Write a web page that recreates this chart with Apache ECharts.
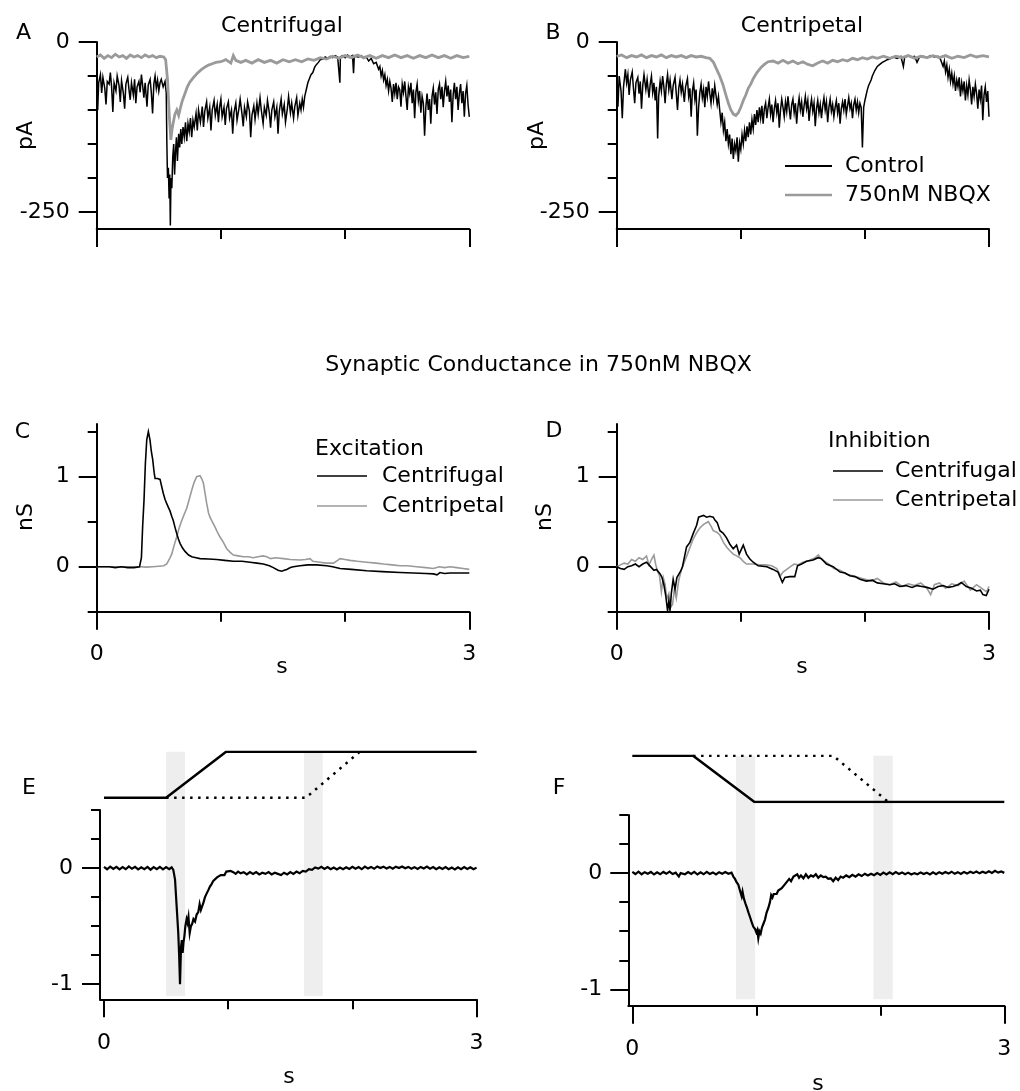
<!DOCTYPE html>
<html>
<head>
<meta charset="utf-8">
<script src="https://cdn.jsdelivr.net/npm/echarts@6/dist/echarts.min.js"></script>
<style>
html,body{margin:0;padding:0;background:#fff;}
#chart{width:1020px;height:1091px;}
</style>
</head>
<body>
<div id="chart"></div>
<script>
// ---------------- DATA ----------------
// Panel A (Centrifugal), current in pA vs time in s
const aControl = [[0,-55],[0.008,-100],[0.016,-60],[0.03,-48],[0.04,-75],[0.05,-52],[0.065,-68],[0.075,-92],[0.085,-58],[0.1,-62],[0.11,-45],[0.12,-66],[0.13,-103],[0.14,-60],[0.155,-72],[0.165,-50],[0.18,-64],[0.19,-88],[0.2,-57],[0.215,-76],[0.225,-98],[0.235,-62],[0.25,-52],[0.26,-70],[0.27,-85],[0.28,-60],[0.295,-78],[0.305,-55],[0.315,-90],[0.325,-66],[0.34,-58],[0.35,-74],[0.36,-48],[0.37,-64],[0.38,-82],[0.39,-60],[0.405,-95],[0.415,-63],[0.43,-55],[0.44,-75],[0.45,-105],[0.46,-62],[0.47,-50],[0.48,-68],[0.49,-56],[0.5,-72],[0.51,-60],[0.52,-55],[0.535,-66],[0.55,-58],
[0.56,-75],[0.565,-150],[0.57,-200],[0.577,-185],[0.583,-230],[0.588,-195],[0.593,-270],[0.598,-200],[0.605,-215],[0.612,-170],[0.62,-150],[0.627,-195],[0.635,-160],[0.642,-140],[0.65,-175],[0.66,-135],[0.668,-155],[0.677,-128],[0.685,-150],[0.695,-125],[0.705,-140],[0.715,-118],[0.725,-146],[0.735,-120],[0.745,-132],[0.755,-112],[0.765,-140],[0.775,-115],[0.785,-125],[0.8,-105],[0.81,-130],[0.82,-100],[0.835,-118],[0.85,-95],[0.86,-125],[0.87,-102],[0.885,-88],[0.895,-112],[0.91,-96],[0.92,-130],[0.93,-100],[0.945,-86],[0.955,-108],[0.97,-92],[0.98,-118],[0.99,-95],
[1.0,-84],[1.01,-110],[1.025,-96],[1.035,-122],[1.045,-98],[1.06,-88],[1.07,-112],[1.085,-100],[1.095,-135],[1.105,-104],[1.12,-90],[1.13,-115],[1.145,-98],[1.155,-84],[1.17,-106],[1.18,-124],[1.19,-96],[1.205,-110],[1.215,-88],[1.23,-102],[1.24,-140],[1.25,-108],[1.265,-94],[1.275,-114],[1.29,-90],[1.3,-106],[1.315,-82],[1.325,-100],[1.34,-120],[1.35,-96],[1.365,-108],[1.375,-86],[1.39,-104],[1.4,-126],[1.41,-100],[1.425,-88],[1.435,-110],[1.45,-96],[1.46,-135],[1.47,-102],[1.485,-84],[1.495,-106],[1.51,-92],[1.52,-118],[1.535,-98],[1.545,-80],[1.56,-104],[1.57,-90],[1.585,-112],[1.595,-95],[1.61,-82],[1.62,-108],[1.635,-90],[1.645,-100],[1.655,-84],[1.665,-96],
[1.675,-80],[1.69,-68],[1.7,-60],[1.715,-58],[1.725,-48],[1.74,-45],[1.755,-37],[1.77,-33],[1.785,-30],[1.8,-26],[1.82,-25],[1.84,-22],[1.86,-24],[1.88,-21],[1.9,-23],[1.92,-20],[1.94,-22],[1.955,-21],[1.958,-60],[1.962,-22],[1.98,-20],[2.0,-23],[2.02,-19],[2.04,-22],[2.06,-20],[2.068,-46],[2.074,-21],[2.09,-19],[2.11,-22],[2.13,-20],[2.15,-24],[2.17,-22],[2.19,-28],[2.21,-24],[2.23,-32],[2.25,-30],[2.27,-40],[2.28,-36],[2.29,-50],[2.3,-42],[2.31,-56],[2.32,-48],[2.33,-64],[2.34,-55],[2.35,-72],[2.36,-58],[2.37,-68],[2.38,-88],[2.39,-62],[2.4,-76],[2.41,-60],[2.42,-84],[2.43,-66],[2.44,-70],[2.45,-95],[2.46,-62],[2.47,-74],[2.48,-58],[2.49,-80],[2.5,-100],[2.51,-66],[2.52,-76],[2.53,-60],[2.54,-90],[2.55,-70],[2.56,-112],[2.57,-74],[2.58,-62],[2.59,-86],[2.6,-72],[2.61,-104],[2.62,-80],[2.63,-90],[2.64,-138],[2.65,-96],[2.66,-76],[2.67,-100],[2.68,-84],[2.69,-120],[2.7,-80],[2.71,-68],[2.72,-92],[2.73,-74],[2.74,-106],[2.75,-70],[2.76,-62],[2.77,-84],[2.78,-66],[2.79,-96],[2.8,-72],[2.81,-58],[2.82,-80],[2.83,-64],[2.84,-88],[2.85,-70],[2.86,-118],[2.87,-78],[2.88,-60],[2.89,-84],[2.9,-66],[2.91,-100],[2.92,-76],[2.93,-62],[2.94,-90],[2.95,-72],[2.96,-110],[2.97,-76],[2.98,-64],[2.99,-92],[3.0,-110]];
const aNbqx = [[0,-22],[0.03,-19],[0.06,-24],[0.09,-20],[0.12,-23],[0.15,-18],[0.18,-22],[0.21,-20],[0.24,-24],[0.27,-19],[0.3,-22],[0.33,-20],[0.36,-23],[0.39,-19],[0.42,-22],[0.45,-20],[0.48,-23],[0.51,-21],[0.54,-22],[0.555,-26],[0.57,-55],[0.585,-110],[0.597,-144],[0.607,-128],[0.617,-118],[0.63,-106],[0.645,-100],[0.66,-108],[0.675,-96],[0.69,-86],[0.71,-76],[0.73,-66],[0.75,-59],[0.78,-52],[0.81,-46],[0.84,-41],[0.87,-37],[0.9,-34],[0.93,-32],[0.96,-30],[1.0,-29],[1.04,-26],[1.08,-31],[1.1,-20],[1.12,-27],[1.16,-30],[1.2,-27],[1.25,-31],[1.3,-26],[1.35,-30],[1.4,-27],[1.45,-31],[1.5,-26],[1.55,-29],[1.6,-26],[1.65,-29],[1.7,-25],[1.75,-27],[1.8,-23],[1.85,-25],[1.9,-21],[1.95,-24],[2.0,-20],[2.05,-23],[2.1,-19],[2.15,-23],[2.2,-20],[2.25,-24],[2.3,-20],[2.35,-23],[2.4,-19],[2.45,-23],[2.5,-20],[2.55,-24],[2.6,-20],[2.65,-23],[2.7,-19],[2.75,-23],[2.8,-20],[2.85,-24],[2.9,-20],[2.95,-23],[3.0,-21]];

// Panel B (Centripetal)
const bControl = [[0,-55],[0.01,-95],[0.02,-50],[0.035,-72],[0.045,-112],[0.055,-66],[0.07,-40],[0.08,-60],[0.09,-48],[0.1,-78],[0.11,-56],[0.125,-44],[0.135,-68],[0.145,-90],[0.155,-60],[0.17,-52],[0.18,-76],[0.19,-58],[0.2,-98],[0.21,-64],[0.22,-48],[0.235,-70],[0.245,-55],[0.26,-82],[0.27,-62],[0.28,-50],[0.29,-74],[0.3,-60],[0.31,-86],[0.32,-66],[0.33,-142],[0.338,-80],[0.35,-58],[0.36,-72],[0.37,-50],[0.38,-66],[0.39,-90],[0.4,-62],[0.41,-48],[0.42,-70],[0.43,-56],[0.445,-84],[0.455,-64],[0.47,-52],[0.48,-76],[0.49,-100],[0.5,-68],[0.51,-56],[0.52,-74],[0.53,-62],[0.545,-88],[0.555,-66],[0.57,-54],[0.58,-80],[0.59,-68],[0.6,-110],[0.61,-72],[0.62,-60],[0.63,-84],[0.64,-70],[0.65,-138],[0.66,-96],[0.67,-74],[0.68,-62],[0.69,-82],[0.7,-70],[0.71,-96],[0.72,-66],[0.73,-80],[0.74,-58],[0.75,-76],[0.76,-90],[0.77,-68],[0.78,-84],[0.79,-64],[0.8,-78],[0.81,-92],[0.82,-80],[0.83,-100],
[0.84,-118],[0.85,-104],[0.86,-130],[0.87,-118],[0.88,-146],[0.89,-128],[0.9,-150],[0.91,-136],[0.92,-165],[0.93,-142],[0.94,-172],[0.95,-150],[0.96,-160],[0.97,-140],[0.98,-176],[0.99,-148],[1.0,-158],[1.01,-136],[1.02,-150],[1.03,-130],[1.04,-146],[1.05,-124],[1.06,-140],[1.07,-118],[1.08,-136],[1.09,-114],[1.1,-128],[1.11,-106],[1.12,-122],[1.13,-100],[1.14,-118],[1.15,-96],[1.16,-112],[1.17,-94],[1.18,-120],[1.19,-98],[1.2,-90],[1.21,-112],[1.22,-96],[1.23,-84],
[1.24,-106],[1.25,-92],[1.26,-118],[1.27,-98],[1.28,-86],[1.29,-104],[1.3,-90],[1.31,-126],[1.32,-100],[1.33,-84],[1.34,-96],[1.35,-110],[1.36,-88],[1.37,-102],[1.38,-80],[1.39,-98],[1.4,-114],[1.41,-92],[1.42,-84],[1.43,-104],[1.44,-90],[1.45,-120],[1.46,-96],[1.47,-82],[1.48,-100],[1.49,-88],[1.5,-110],[1.51,-94],[1.52,-80],[1.53,-98],[1.54,-86],[1.55,-116],[1.56,-96],[1.57,-84],[1.58,-102],[1.59,-90],[1.6,-124],[1.61,-98],[1.62,-86],[1.63,-104],[1.64,-92],[1.65,-112],[1.66,-94],[1.67,-82],[1.68,-100],[1.69,-88],[1.7,-118],[1.71,-96],[1.72,-84],[1.73,-102],[1.74,-92],[1.75,-110],[1.76,-96],[1.77,-86],[1.78,-104],[1.79,-90],[1.8,-120],[1.81,-98],[1.82,-88],[1.83,-100],[1.84,-84],[1.85,-106],[1.86,-94],[1.87,-82],[1.88,-98],[1.89,-90],[1.9,-112],[1.91,-92],[1.92,-84],[1.93,-100],[1.94,-88],[1.95,-104],[1.96,-90],[1.97,-96],[1.98,-155],[1.99,-96],[2.0,-86],
[2.01,-78],[2.02,-70],[2.03,-64],[2.04,-60],[2.05,-56],[2.06,-50],[2.07,-48],[2.08,-42],[2.09,-40],[2.1,-36],[2.12,-33],[2.14,-30],[2.16,-28],[2.18,-26],[2.2,-25],[2.23,-22],[2.26,-24],[2.29,-21],[2.31,-36],[2.32,-23],[2.35,-20],[2.38,-22],[2.4,-21],[2.42,-30],[2.44,-22],[2.47,-21],[2.5,-23],[2.53,-20],[2.56,-22],[2.59,-21],[2.61,-26],[2.62,-24],[2.63,-36],[2.64,-28],[2.65,-44],[2.66,-34],[2.67,-52],[2.68,-40],[2.69,-58],[2.7,-46],[2.71,-62],[2.72,-50],[2.73,-72],[2.74,-56],[2.75,-66],[2.76,-52],[2.77,-80],[2.78,-60],[2.79,-72],[2.8,-58],[2.81,-86],[2.82,-64],[2.83,-78],[2.84,-56],[2.85,-70],[2.86,-92],[2.87,-66],[2.88,-80],[2.89,-62],[2.9,-76],[2.91,-98],[2.92,-70],[2.93,-84],[2.94,-64],[2.95,-115],[2.96,-78],[2.97,-66],[2.98,-88],[2.99,-72],[3.0,-110]];
const bNbqx = [[0,-21],[0.04,-19],[0.08,-23],[0.12,-20],[0.16,-22],[0.2,-19],[0.24,-23],[0.28,-20],[0.32,-22],[0.36,-19],[0.4,-23],[0.44,-20],[0.48,-22],[0.52,-20],[0.56,-23],[0.6,-20],[0.64,-22],[0.68,-21],[0.72,-23],[0.75,-24],[0.78,-30],[0.8,-38],[0.83,-50],[0.855,-62],[0.88,-78],[0.9,-90],[0.92,-100],[0.94,-106],[0.96,-108],[0.98,-104],[1.0,-96],[1.02,-86],[1.04,-78],[1.06,-68],[1.08,-62],[1.1,-54],[1.13,-45],[1.16,-38],[1.19,-33],[1.22,-29],[1.26,-28],[1.3,-31],[1.34,-27],[1.38,-31],[1.42,-28],[1.46,-32],[1.5,-29],[1.54,-33],[1.58,-35],[1.62,-31],[1.66,-28],[1.7,-31],[1.74,-27],[1.78,-29],[1.82,-26],[1.86,-28],[1.9,-24],[1.94,-26],[1.98,-23],[2.02,-25],[2.06,-22],[2.1,-24],[2.15,-21],[2.2,-24],[2.25,-21],[2.3,-23],[2.35,-20],[2.4,-24],[2.45,-21],[2.5,-23],[2.55,-20],[2.6,-23],[2.65,-20],[2.7,-24],[2.75,-21],[2.8,-23],[2.85,-19],[2.9,-22],[2.95,-20],[3.0,-22]];

// Panel C (Excitation, nS)
const cCentrifugal = [[0,0],[0.1,0.0],[0.15,-0.01],[0.2,0.0],[0.25,-0.01],[0.3,-0.01],[0.345,0.0],[0.36,0.1],[0.37,0.45],[0.381,0.74],[0.392,1.15],[0.403,1.41],[0.416,1.5],[0.429,1.41],[0.44,1.28],[0.451,1.19],[0.462,1.05],[0.47,0.98],[0.49,0.98],[0.51,0.97],[0.525,0.88],[0.537,0.81],[0.55,0.75],[0.564,0.7],[0.577,0.66],[0.59,0.62],[0.604,0.56],[0.617,0.51],[0.63,0.44],[0.644,0.37],[0.657,0.31],[0.671,0.26],[0.69,0.21],[0.711,0.17],[0.74,0.13],[0.765,0.11],[0.8,0.1],[0.832,0.09],[0.9,0.085],[0.966,0.08],[1.03,0.07],[1.1,0.06],[1.17,0.06],[1.235,0.05],[1.29,0.04],[1.342,0.03],[1.39,0.01],[1.422,-0.01],[1.46,-0.04],[1.49,-0.05],[1.51,-0.04],[1.53,-0.03],[1.56,-0.01],[1.583,0.0],[1.637,0.01],[1.7,0.02],[1.771,0.02],[1.852,0.01],[1.9,0.0],[1.959,-0.02],[2.05,-0.03],[2.174,-0.045],[2.3,-0.055],[2.442,-0.065],[2.55,-0.07],[2.65,-0.075],[2.711,-0.08],[2.74,-0.09],[2.764,-0.065],[2.8,-0.075],[2.845,-0.07],[2.9,-0.07],[3.0,-0.07]];
const cCentripetal = [[0,0],[0.3,0.0],[0.35,0.0],[0.4,-0.005],[0.45,0.0],[0.5,0.005],[0.54,0.01],[0.564,0.03],[0.584,0.08],[0.604,0.14],[0.624,0.24],[0.644,0.33],[0.664,0.43],[0.684,0.51],[0.704,0.58],[0.725,0.65],[0.745,0.75],[0.765,0.85],[0.785,0.94],[0.805,1.0],[0.82,1.02],[0.832,1.01],[0.845,0.98],[0.859,0.93],[0.872,0.82],[0.886,0.7],[0.9,0.6],[0.912,0.55],[0.93,0.5],[0.953,0.44],[0.97,0.39],[0.993,0.33],[1.02,0.27],[1.047,0.2],[1.075,0.16],[1.1,0.13],[1.14,0.12],[1.181,0.11],[1.22,0.11],[1.261,0.1],[1.3,0.11],[1.34,0.12],[1.369,0.11],[1.4,0.09],[1.44,0.1],[1.503,0.09],[1.56,0.08],[1.637,0.075],[1.68,0.08],[1.718,0.09],[1.74,0.06],[1.798,0.05],[1.85,0.04],[1.906,0.04],[1.94,0.07],[1.959,0.09],[2.0,0.08],[2.04,0.07],[2.1,0.06],[2.174,0.05],[2.25,0.04],[2.308,0.03],[2.38,0.02],[2.442,0.01],[2.5,0.01],[2.576,0.0],[2.65,-0.01],[2.711,-0.02],[2.76,0.0],[2.8,-0.01],[2.845,0.0],[2.9,-0.01],[2.95,-0.02],[3.0,-0.03]];

// Panel D (Inhibition, nS)
const dCentrifugal = [[0,0],[0.03,-0.02],[0.06,-0.03],[0.09,0.0],[0.12,0.01],[0.15,0.03],[0.18,0.0],[0.21,0.03],[0.24,0.05],[0.26,0.02],[0.28,-0.01],[0.3,-0.04],[0.32,-0.03],[0.335,-0.01],[0.35,-0.08],[0.365,-0.12],[0.38,-0.2],[0.395,-0.32],[0.41,-0.49],[0.42,-0.38],[0.43,-0.49],[0.44,-0.3],[0.455,-0.14],[0.47,-0.25],[0.485,-0.12],[0.5,-0.1],[0.515,-0.05],[0.53,0.0],[0.545,0.1],[0.563,0.22],[0.59,0.27],[0.617,0.37],[0.644,0.46],[0.66,0.55],[0.68,0.56],[0.7,0.57],[0.724,0.55],[0.75,0.56],[0.778,0.55],[0.79,0.52],[0.81,0.49],[0.832,0.4],[0.859,0.37],[0.885,0.32],[0.912,0.25],[0.939,0.2],[0.966,0.24],[0.987,0.14],[1.02,0.24],[1.046,0.14],[1.073,0.086],[1.1,0.05],[1.14,0.01],[1.21,0.0],[1.26,-0.03],[1.3,-0.06],[1.335,-0.175],[1.355,-0.12],[1.395,-0.11],[1.435,-0.11],[1.457,0.01],[1.49,0.03],[1.53,0.06],[1.583,0.075],[1.623,0.1],[1.65,0.09],[1.69,0.03],[1.744,0.0],[1.8,-0.06],[1.84,-0.07],[1.878,-0.1],[1.92,-0.11],[1.96,-0.14],[2.012,-0.16],[2.06,-0.15],[2.1,-0.18],[2.147,-0.19],[2.2,-0.2],[2.24,-0.19],[2.281,-0.22],[2.33,-0.21],[2.38,-0.23],[2.42,-0.21],[2.46,-0.22],[2.5,-0.23],[2.549,-0.25],[2.59,-0.22],[2.63,-0.21],[2.67,-0.23],[2.71,-0.22],[2.75,-0.2],[2.777,-0.175],[2.817,-0.22],[2.86,-0.24],[2.9,-0.27],[2.93,-0.26],[2.951,-0.31],[2.978,-0.32],[3.0,-0.25]];
const dCentripetal = [[0,0.0],[0.03,0.02],[0.06,0.04],[0.09,0.03],[0.12,0.08],[0.15,0.06],[0.18,0.1],[0.21,0.08],[0.24,0.12],[0.26,0.02],[0.28,0.08],[0.3,0.13],[0.315,0.02],[0.33,-0.05],[0.345,-0.1],[0.36,-0.28],[0.375,-0.12],[0.39,-0.2],[0.405,-0.36],[0.42,-0.3],[0.435,-0.45],[0.45,-0.42],[0.465,-0.25],[0.48,-0.35],[0.5,-0.15],[0.52,-0.04],[0.545,0.05],[0.57,0.14],[0.6,0.25],[0.617,0.31],[0.645,0.38],[0.67,0.43],[0.7,0.47],[0.738,0.5],[0.76,0.45],[0.778,0.4],[0.81,0.38],[0.832,0.35],[0.86,0.27],[0.885,0.22],[0.91,0.18],[0.939,0.14],[0.966,0.12],[0.993,0.1],[1.02,0.06],[1.046,0.03],[1.07,0.03],[1.1,0.03],[1.15,0.02],[1.2,0.02],[1.25,0.01],[1.29,-0.02],[1.32,-0.1],[1.34,-0.06],[1.37,-0.03],[1.4,0.0],[1.43,0.03],[1.46,0.02],[1.5,0.05],[1.55,0.07],[1.6,0.1],[1.625,0.13],[1.65,0.08],[1.7,0.04],[1.75,-0.02],[1.8,-0.04],[1.85,-0.08],[1.9,-0.1],[1.95,-0.12],[2.0,-0.14],[2.05,-0.16],[2.1,-0.13],[2.15,-0.18],[2.2,-0.2],[2.25,-0.17],[2.3,-0.22],[2.35,-0.19],[2.4,-0.21],[2.45,-0.18],[2.5,-0.24],[2.53,-0.31],[2.56,-0.2],[2.6,-0.18],[2.65,-0.24],[2.7,-0.19],[2.75,-0.21],[2.8,-0.16],[2.85,-0.26],[2.9,-0.2],[2.95,-0.25],[2.98,-0.28],[3.0,-0.22]];

// Panel E / F traces
const eTrace = [[0,0.01],[0.025,-0.01],[0.05,0.012],[0.075,-0.008],[0.1,0.01],[0.125,-0.012],[0.15,0.008],[0.175,-0.01],[0.2,0.014],[0.225,-0.006],[0.25,0.01],[0.275,-0.012],[0.3,0.006],[0.325,-0.01],[0.35,0.01],[0.375,-0.014],[0.4,0.008],[0.425,-0.01],[0.45,0.01],[0.475,-0.012],[0.5,0.008],[0.525,-0.01],[0.545,0.006],[0.558,-0.015],[0.572,-0.1],[0.585,-0.33],[0.598,-0.56],[0.605,-0.75],[0.612,-1.0],[0.62,-0.68],[0.627,-0.62],[0.633,-0.73],[0.64,-0.64],[0.647,-0.59],[0.655,-0.5],[0.665,-0.44],[0.672,-0.47],[0.68,-0.42],[0.69,-0.56],[0.7,-0.5],[0.71,-0.48],[0.72,-0.44],[0.733,-0.46],[0.746,-0.4],[0.759,-0.38],[0.77,-0.31],[0.78,-0.36],[0.79,-0.33],[0.8,-0.3],[0.813,-0.25],[0.826,-0.22],[0.84,-0.19],[0.853,-0.16],[0.865,-0.14],[0.88,-0.11],[0.895,-0.1],[0.91,-0.08],[0.925,-0.075],[0.94,-0.06],[0.955,-0.055],[0.97,-0.06],[0.985,-0.03],[1.0,-0.045],[1.02,-0.025],[1.041,-0.035],[1.06,-0.05],[1.08,-0.03],[1.1,-0.045],[1.125,-0.035],[1.15,-0.055],[1.175,-0.035],[1.2,-0.05],[1.225,-0.035],[1.25,-0.055],[1.275,-0.04],[1.3,-0.05],[1.325,-0.035],[1.35,-0.055],[1.375,-0.04],[1.4,-0.05],[1.425,-0.06],[1.45,-0.04],[1.475,-0.055],[1.5,-0.035],[1.525,-0.05],[1.55,-0.03],[1.575,-0.045],[1.6,-0.025],[1.625,-0.03],[1.65,-0.01],[1.675,-0.015],[1.7,0.005],[1.725,-0.005],[1.75,0.01],[1.775,-0.008],[1.8,0.008],[1.825,-0.01],[1.85,0.005],[1.875,-0.012],[1.9,0.004],[1.925,-0.01],[1.95,0.006],[1.975,-0.008],[2.0,0.01],[2.025,-0.006],[2.05,0.008],[2.075,-0.01],[2.1,0.012],[2.125,-0.004],[2.15,0.01],[2.175,-0.006],[2.2,0.014],[2.225,0.0],[2.25,0.012],[2.275,-0.004],[2.3,0.01],[2.325,-0.006],[2.35,0.012],[2.375,0.0],[2.4,0.014],[2.425,-0.002],[2.45,0.01],[2.475,-0.006],[2.5,0.008],[2.525,-0.008],[2.55,0.01],[2.575,-0.004],[2.6,0.012],[2.625,-0.006],[2.65,0.008],[2.675,-0.01],[2.7,0.006],[2.725,-0.008],[2.75,0.008],[2.775,-0.01],[2.8,0.004],[2.825,-0.012],[2.85,0.006],[2.875,-0.01],[2.9,0.008],[2.925,-0.008],[2.95,0.006],[2.975,-0.01],[3.0,0.004]];
const fTrace = [[0,0.01],[0.025,-0.008],[0.05,0.012],[0.075,-0.01],[0.1,0.008],[0.125,-0.006],[0.15,0.01],[0.175,-0.012],[0.2,0.006],[0.225,-0.01],[0.25,0.01],[0.275,-0.006],[0.3,0.012],[0.325,-0.008],[0.35,0.004],[0.375,-0.03],[0.39,0.0],[0.4,0.01],[0.425,-0.01],[0.45,0.008],[0.475,-0.008],[0.5,0.01],[0.525,-0.012],[0.55,0.006],[0.575,-0.01],[0.6,0.01],[0.625,-0.008],[0.65,0.006],[0.675,-0.012],[0.7,0.008],[0.725,-0.006],[0.75,0.01],[0.775,-0.006],[0.8,0.004],[0.815,-0.03],[0.828,-0.05],[0.842,-0.08],[0.855,-0.1],[0.868,-0.15],[0.882,-0.2],[0.889,-0.16],[0.9,-0.22],[0.912,-0.26],[0.925,-0.3],[0.937,-0.34],[0.95,-0.38],[0.962,-0.42],[0.975,-0.46],[0.989,-0.48],[1.0,-0.51],[1.008,-0.49],[1.016,-0.56],[1.025,-0.5],[1.035,-0.52],[1.045,-0.47],[1.056,-0.44],[1.07,-0.4],[1.083,-0.34],[1.097,-0.3],[1.11,-0.25],[1.12,-0.19],[1.13,-0.21],[1.14,-0.18],[1.151,-0.17],[1.164,-0.18],[1.177,-0.15],[1.19,-0.15],[1.205,-0.13],[1.218,-0.12],[1.235,-0.09],[1.25,-0.08],[1.265,-0.05],[1.28,-0.07],[1.3,-0.03],[1.315,-0.04],[1.33,-0.01],[1.345,-0.04],[1.36,-0.02],[1.38,-0.045],[1.4,-0.01],[1.42,-0.04],[1.44,-0.02],[1.46,-0.03],[1.48,-0.01],[1.5,-0.04],[1.52,-0.02],[1.54,-0.035],[1.56,-0.03],[1.58,-0.05],[1.6,-0.045],[1.62,-0.07],[1.64,-0.04],[1.66,-0.06],[1.68,-0.03],[1.7,-0.04],[1.725,-0.02],[1.75,-0.035],[1.775,-0.015],[1.8,-0.03],[1.825,-0.01],[1.85,-0.025],[1.875,-0.005],[1.9,-0.02],[1.925,-0.005],[1.95,-0.018],[1.975,0.0],[2.0,-0.015],[2.025,0.004],[2.05,-0.012],[2.075,0.006],[2.1,-0.01],[2.125,0.008],[2.15,-0.008],[2.175,0.006],[2.2,-0.01],[2.225,0.004],[2.25,-0.012],[2.275,0.0],[2.3,-0.01],[2.325,0.006],[2.35,-0.008],[2.375,0.004],[2.4,-0.012],[2.425,0.006],[2.45,-0.01],[2.475,0.008],[2.5,-0.006],[2.525,0.01],[2.55,-0.004],[2.575,0.012],[2.6,-0.006],[2.625,0.008],[2.65,-0.008],[2.675,0.01],[2.7,-0.004],[2.725,0.012],[2.75,0.0],[2.775,0.014],[2.8,-0.002],[2.825,0.012],[2.85,0.0],[2.875,0.016],[2.9,0.002],[2.925,0.02],[2.95,0.004],[2.975,0.014],[3.0,0.002]];

// Stimulus schematics (0 = low, 1 = high) and shaded windows (s)
const eStimSolid = [[0,0],[0.5,0],[0.983,1],[3,1]];
const eStimDotted = [[0.5,0],[1.626,0],[2.06,1]];
const fStimSolid = [[0,1],[0.49,1],[0.985,0],[3,0]];
const fStimDotted = [[0.49,1],[1.62,1],[2.065,0]];
const eBands = [[0.5,0.652],[1.61,1.761]];
const fBands = [[0.836,0.99],[1.944,2.1]];

// Tick values
const xMajorTicks = [0,3], xMinorTicks = [1,2];
const pAMajor = [-250,0], pAMinor = [-200,-150,-100,-50];
const nSMajor = [0,1], nSMinor = [-0.5,0.5,1.5];
const eMajor = [-1,0], eMinor = [-0.75,-0.5,-0.25,0.25,0.5];

// ---------------- BUILD ----------------
const FONT = '"DejaVu Sans", Verdana, sans-serif';
const BLACK = '#000', GRAY = '#9a9a9a';
const grids = [], xAxes = [], yAxes = [], series = [];
const lblStyle = {color:'#000', fontFamily:FONT, fontSize:22};
const tickLS = {color:'#000', width:2};

function addPanel(rect, xr, yr, yMaj, yMin, showXLabels, xMargin, yMargin) {
  const gi = grids.length;
  grids.push({left:rect[0], top:rect[1], width:rect[2], height:rect[3], containLabel:false, outerBoundsMode:'none', show:false});
  const xb = {gridIndex:gi, type:'value', min:xr[0], max:xr[1], position:'bottom', splitLine:{show:false}};
  const yb = {gridIndex:gi, type:'value', min:yr[0], max:yr[1], position:'left', splitLine:{show:false}};
  const xi = xAxes.length, yi = yAxes.length;
  xAxes.push(Object.assign({}, xb, {
    axisLine:{show:true, onZero:false, lineStyle:{color:'#000', width:2}},
    axisTick:{show:true, length:18, customValues:xMajorTicks, lineStyle:tickLS},
    axisLabel:Object.assign({show:showXLabels, customValues:xMajorTicks, margin:xMargin}, lblStyle)}));
  xAxes.push(Object.assign({}, xb, {
    axisLine:{show:false, onZero:false},
    axisTick:{show:true, length:10, customValues:xMinorTicks, lineStyle:tickLS},
    axisLabel:{show:false}}));
  yAxes.push(Object.assign({}, yb, {
    axisLine:{show:true, onZero:false, lineStyle:{color:'#000', width:2}},
    axisTick:{show:true, length:18, customValues:yMaj, lineStyle:tickLS},
    axisLabel:Object.assign({show:true, customValues:yMaj, margin:yMargin}, lblStyle)}));
  yAxes.push(Object.assign({}, yb, {
    axisLine:{show:false, onZero:false},
    axisTick:{show:true, length:9, customValues:yMin, lineStyle:tickLS},
    axisLabel:{show:false}}));
  return {xi, yi};
}
function addHidden(rect, xr, yr) {
  const gi = grids.length;
  grids.push({left:rect[0], top:rect[1], width:rect[2], height:rect[3], containLabel:false, outerBoundsMode:'none', show:false});
  const hid = {axisLine:{show:false}, axisTick:{show:false}, axisLabel:{show:false}, splitLine:{show:false}};
  const xi = xAxes.length, yi = yAxes.length;
  xAxes.push(Object.assign({gridIndex:gi, type:'value', min:xr[0], max:xr[1]}, hid));
  yAxes.push(Object.assign({gridIndex:gi, type:'value', min:yr[0], max:yr[1]}, hid));
  return {xi, yi};
}
function trace(name, data, ax, color, width, z, dash) {
  series.push({name, type:'line', data, xAxisIndex:ax.xi, yAxisIndex:ax.yi, showSymbol:false, symbol:'none',
    silent:true, z, lineStyle:{color, width, type: dash || 'solid', cap:'butt', join:'miter'}, animation:false});
}
function bands(list, ax) {
  series.push({type:'line', data:[], xAxisIndex:ax.xi, yAxisIndex:ax.yi, z:0, silent:true,
    markArea:{silent:true, itemStyle:{color:'#eeeeee'}, data:list.map(b => [{xAxis:b[0], yAxis:0},{xAxis:b[1], yAxis:1}])}});
}

const pA = addPanel([96.7,42,372.6,187], [0,3], [-275,0], pAMajor, pAMinor, false, 30, 27);
const pB = addPanel([616.7,42,372.3,187], [0,3], [-275,0], pAMajor, pAMinor, false, 30, 27);
const pC = addPanel([96.7,424,372.6,187.7], [0,3], [-0.5,1.5856], nSMajor, nSMinor, true, 32, 27);
const pD = addPanel([616.7,424,372.3,187.7], [0,3], [-0.5,1.5856], nSMajor, nSMinor, true, 32, 27);
const pE = addPanel([100,810,376.6,189.3], [-0.0322,3], [-1.13,0.5], eMajor, eMinor, true, 33, 27);
const pF = addPanel([628.3,815,376,190.7], [-0.0323,3], [-1.141,0.5], eMajor, eMinor, true, 33, 26);
const eBand = addHidden([100,751.7,376.6,244.3], [-0.0322,3], [0,1]);
const fBand = addHidden([628.3,755.7,376,243.6], [-0.0323,3], [0,1]);
const eStim = addHidden([100,751.7,376.6,46], [-0.0322,3], [0,1]);
const fStim = addHidden([628.3,755.7,376,46.3], [-0.0323,3], [0,1]);

bands(eBands, eBand);
bands(fBands, fBand);
trace('Control', aControl, pA, BLACK, 1.5, 3);
trace('750nM NBQX', aNbqx, pA, GRAY, 2.8, 4);
trace('Control', bControl, pB, BLACK, 1.5, 3);
trace('750nM NBQX', bNbqx, pB, GRAY, 2.8, 4);
trace('Centripetal', cCentripetal, pC, GRAY, 1.6, 3);
trace('Centrifugal', cCentrifugal, pC, BLACK, 1.6, 4);
trace('Centripetal', dCentripetal, pD, GRAY, 1.6, 3);
trace('Centrifugal', dCentrifugal, pD, BLACK, 1.6, 4);
trace('E', eTrace, pE, BLACK, 2.2, 4);
trace('F', fTrace, pF, BLACK, 2.2, 4);
trace('E stim', eStimSolid, eStim, BLACK, 2.5, 5);
trace('E stim dotted', eStimDotted, eStim, BLACK, 2.5, 5, [2.5,5.5]);
trace('F stim', fStimSolid, fStim, BLACK, 2.5, 5);
trace('F stim dotted', fStimDotted, fStim, BLACK, 2.5, 5, [2.5,5.5]);

function txt(text, x, y, align, rot) {
  return {type:'text', x, y, rotation: rot || 0, z:100, silent:true,
    style:{text, x:0, y:0, fill:'#000', font:'22px ' + FONT, textAlign:align || 'center', textVerticalAlign:'middle', align:align || 'center', verticalAlign:'middle'}};
}
function seg(x1, x2, y, color, w) {
  return {type:'line', z:100, silent:true, shape:{x1, y1:y, x2, y2:y}, style:{stroke:color, lineWidth:w}};
}
const graphics = [
  txt('A', 23.5, 33), txt('Centrifugal', 282, 26),
  txt('B', 553, 33), txt('Centripetal', 802, 26),
  txt('pA', 26, 135.5, 'center', Math.PI/2), txt('pA', 537, 135.5, 'center', Math.PI/2),
  seg(785, 832, 166, BLACK, 2), txt('Control', 845, 166, 'left'),
  seg(785, 832, 195, GRAY, 2.5), txt('750nM NBQX', 845, 195, 'left'),
  txt('Synaptic Conductance in 750nM NBQX', 538.5, 365),
  txt('C', 22.5, 432), txt('D', 554, 431),
  txt('nS', 26, 517, 'center', Math.PI/2), txt('nS', 545, 517, 'center', Math.PI/2),
  txt('Excitation', 315, 449, 'left'),
  seg(317, 367, 476, BLACK, 1.6), txt('Centrifugal', 382, 476, 'left'),
  seg(317, 367, 506, GRAY, 1.6), txt('Centripetal', 382, 506, 'left'),
  txt('Inhibition', 828, 441, 'left'),
  seg(833, 883, 471, BLACK, 1.6), txt('Centrifugal', 895, 471, 'left'),
  seg(833, 883, 500, GRAY, 1.6), txt('Centripetal', 895, 500, 'left'),
  txt('s', 282, 667), txt('s', 802, 667),
  txt('E', 29, 788), txt('F', 559, 788),
  txt('s', 289, 1077), txt('s', 818, 1084)
];

const chart = echarts.init(document.getElementById('chart'), null, {renderer:'canvas'});
chart.setOption({
  backgroundColor:'#ffffff',
  animation:false,
  grid:grids, xAxis:xAxes, yAxis:yAxes, series,
  graphic:{elements:graphics}
});
</script>
</body>
</html>
